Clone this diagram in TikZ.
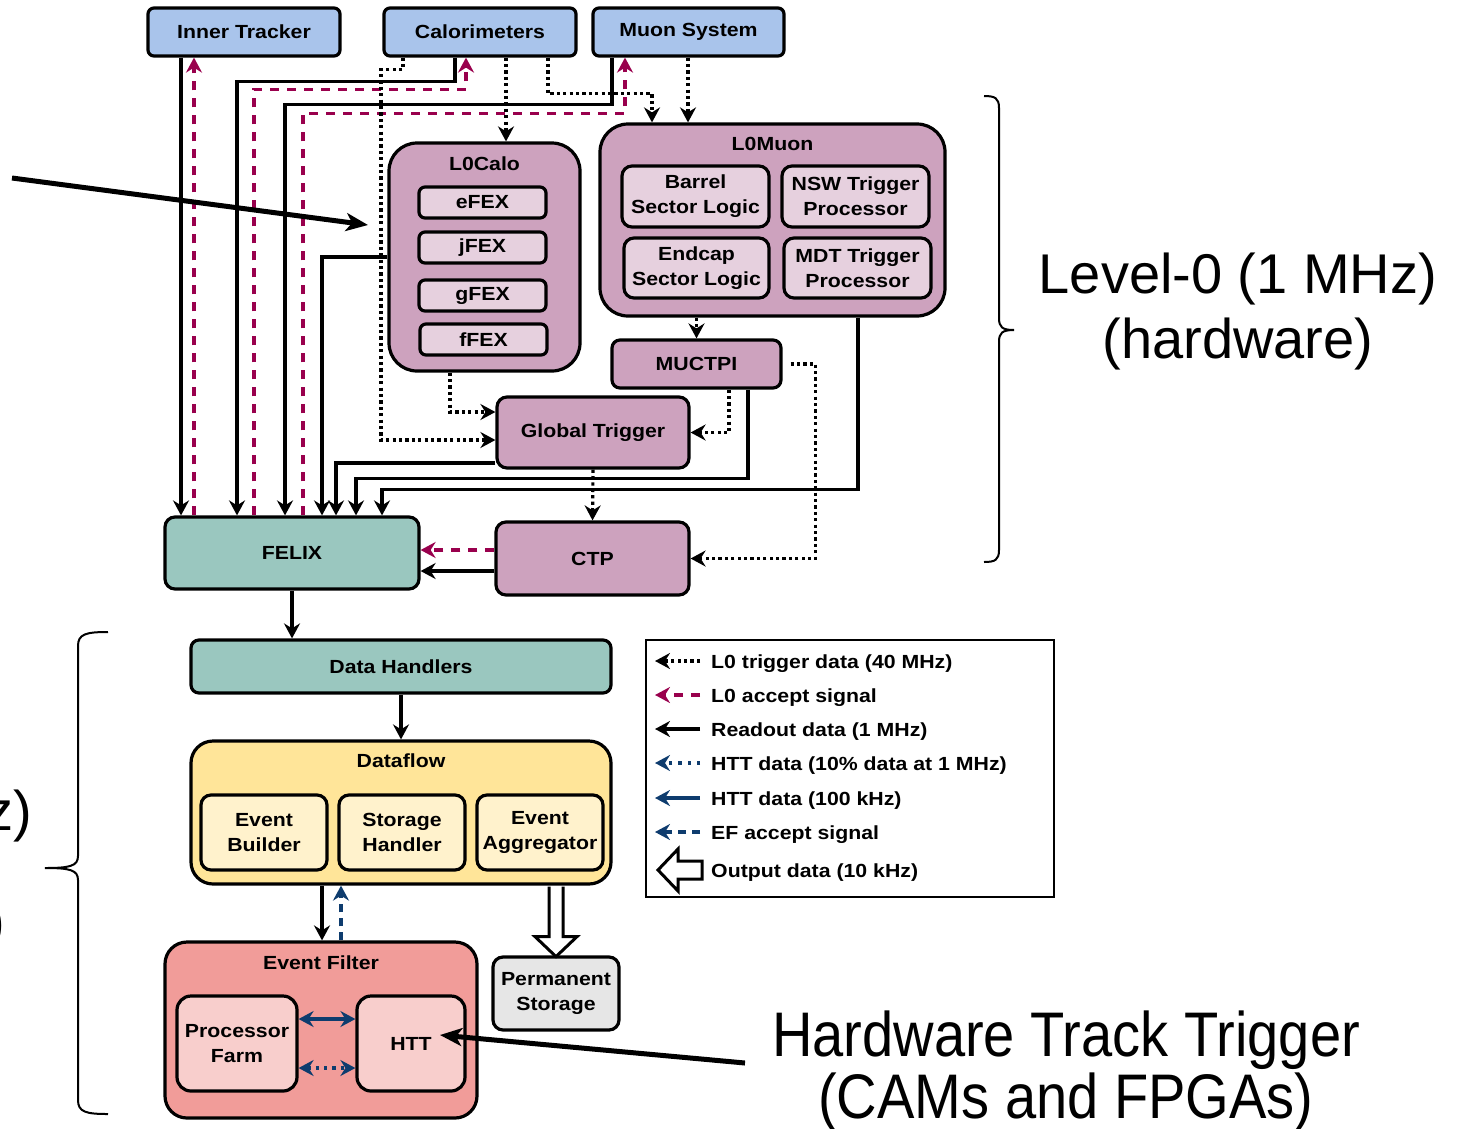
\documentclass[tikz,border=0pt]{standalone}
\usepackage{fontspec}
\setmainfont{Liberation Sans}[FakeStretch=1.12]
\newfontfamily\plainsans{Liberation Sans}
\newfontfamily\narrowsans{Liberation Sans}[FakeStretch=0.89]
\usetikzlibrary{arrows.meta,calc}
\definecolor{detblue}{HTML}{A9C4EB}
\definecolor{lzero}{HTML}{CDA2BE}
\definecolor{lzerolt}{HTML}{E6D0DE}
\definecolor{felixc}{HTML}{9AC7BF}
\definecolor{dfy}{HTML}{FFE599}
\definecolor{dfylt}{HTML}{FFF2CC}
\definecolor{efr}{HTML}{F19C99}
\definecolor{efrlt}{HTML}{F8CECC}
\definecolor{psg}{HTML}{E6E6E6}
\definecolor{accmag}{HTML}{99004D}
\definecolor{httblue}{HTML}{0E3C6E}
\tikzset{
  lbl/.style={font=\fontsize{19}{25}\selectfont\bfseries, align=center, text=black, inner sep=0pt},
  base/.style={draw=black, line width=3.2pt, lbl},
  det/.style={base, fill=detblue, rounded corners=6pt, minimum width=192pt, minimum height=48pt},
  grp/.style={base, fill=lzero, rounded corners=28pt},
  sub/.style={base, fill=lzerolt, rounded corners=8pt},
  lz/.style={base, fill=lzero, rounded corners=10pt},
  tl/.style={base, fill=felixc, rounded corners=10pt},
  dfbox/.style={base, fill=dfy, rounded corners=22pt},
  dfsub/.style={base, fill=dfylt, rounded corners=10pt, minimum width=126pt, minimum height=75pt},
  efbox/.style={base, fill=efr, rounded corners=22pt},
  efsub/.style={base, fill=efrlt, rounded corners=14pt, minimum height=95pt},
  tip/.style={-{Stealth[length=15pt,width=16pt,inset=5pt]}},
  rd/.style={line width=3.2pt, tip},
  trg/.style={rd, dash pattern=on 3.2pt off 3.2pt},
  acc/.style={rd, color=accmag, dash pattern=on 9pt off 8pt},
  htts/.style={line width=3.2pt, color=httblue},
  dbl/.style={{Stealth[length=15pt,width=16pt,inset=5pt]}-{Stealth[length=15pt,width=16pt,inset=5pt]}},
  ptr/.style={line width=5pt, -{Stealth[length=22pt,width=18pt,inset=6pt]}},
  lgt/.style={lbl, anchor=base west},
  bigtxt/.style={font=\plainsans\fontsize{56}{65}\selectfont, inner sep=0pt},
  narrowtxt/.style={font=\narrowsans\fontsize{63}{64}\selectfont, inner sep=0pt},
}
\begin{document}
\begin{tikzpicture}[x=1pt,y=-1pt]
\useasboundingbox (0,0) rectangle (1461,1128);

% detectors
\node[det] (it) at (244,32) {Inner Tracker};
\node[det] (cal) at (480,32) {Calorimeters};
\node[det, minimum width=191pt] (muon) at (688.5,32) {Muon System};

% L0Calo
\node[grp, minimum width=191pt, minimum height=228pt] (l0calo) at (484.5,257) {};
\node[lbl] (l0calot) at (484.5,164) {L0Calo};
\node[sub, rounded corners=6pt, minimum width=127pt, minimum height=31pt] (efex) at (482.5,202.5) {eFEX};
\node[sub, rounded corners=6pt, minimum width=127pt, minimum height=31pt] (jfex) at (482.5,247.5) {jFEX};
\node[sub, rounded corners=6pt, minimum width=127pt, minimum height=31pt] (gfex) at (482.5,295.5) {gFEX};
\node[sub, rounded corners=6pt, minimum width=127pt, minimum height=31pt] (ffex) at (483.5,339.5) {fFEX};

% L0Muon
\node[grp, minimum width=345pt, minimum height=192pt] (l0muon) at (772.5,220) {};
\node[lbl] (l0muont) at (772.5,144) {L0Muon};
\node[sub, rounded corners=10pt, minimum width=147pt, minimum height=61pt] (barrel) at (695.5,196.5) {Barrel\\Sector Logic};
\node[sub, rounded corners=10pt, minimum width=147pt, minimum height=61pt] (nsw) at (855.5,196.5) {NSW Trigger\\Processor};
\node[sub, rounded corners=10pt, minimum width=145pt, minimum height=60pt] (endcap) at (696.5,268) {Endcap\\Sector Logic};
\node[sub, rounded corners=10pt, minimum width=147pt, minimum height=60pt] (mdt) at (857.5,268) {MDT Trigger\\Processor};

\node[lz, rounded corners=8pt, minimum width=169pt, minimum height=48pt] (muctpi) at (696.5,364) {MUCTPI};
\node[lz, minimum width=192pt, minimum height=71pt] (gt) at (593,432.5) {Global Trigger};
\node[lz, minimum width=193pt, minimum height=73pt] (ctp) at (592.5,558.5) {CTP};
\node[tl, minimum width=254pt, minimum height=72pt] (felix) at (292,553) {FELIX};

% DAQ
\node[tl, rounded corners=8pt, minimum width=420pt, minimum height=53pt] (dh) at (401,666.5) {Data Handlers};
\node[dfbox, minimum width=420pt, minimum height=143pt] (df) at (401,812.5) {};
\node[lbl] (dft) at (401,761) {Dataflow};
\node[dfsub] (eb) at (264,832.5) {Event\\Builder};
\node[dfsub] (sh) at (402,832.5) {Storage\\Handler};
\node[dfsub] (ea) at (540,832.5) {Event\\Aggregator};

\node[efbox, minimum width=312pt, minimum height=176pt] (ef) at (321,1030) {};
\node[lbl] (eft) at (321,963) {Event Filter};
\node[efsub, minimum width=120pt] (pf) at (237,1043.5) {Processor\\Farm};
\node[efsub, minimum width=108pt] (htt) at (411,1043.5) {HTT};
\node[base, fill=psg, rounded corners=10pt, minimum width=126pt, minimum height=73pt] (ps) at (556,993.5) {Permanent\\Storage};

% ---------- readout (solid black) ----------
\draw[rd] ([xshift=-63pt]it.south) -- ([xshift=-111pt]felix.north);
\draw[rd] ([xshift=-25pt]cal.south) -- ++(0,24) -| ([xshift=-55pt]felix.north);
\draw[rd] ([xshift=-76.5pt]muon.south) -- ++(0,47) -| ([xshift=-7pt]felix.north);
\draw[rd] (l0calo.west) -| ([xshift=30pt]felix.north);
\draw[rd] ([yshift=-30.5pt]gt.west) -| ([xshift=44pt]felix.north);
\draw[rd] ([xshift=51.5pt]muctpi.south) -- ++(0,89) -| ([xshift=64pt]felix.north);
\draw[rd] ([xshift=85.5pt]l0muon.south) -- ++(0,172) -| ([xshift=90pt]felix.north);
\coordinate (ctpo) at ([yshift=-12.5pt]ctp.west);
\draw[rd] (ctpo) -- (ctpo -| felix.east);
\draw[rd] (felix.south) -- (felix.south |- dh.north);
\draw[rd] (dh.south) -- (df.north);
\coordinate (dfa) at ([xshift=-79pt]df.south);
\draw[rd] (dfa) -- (dfa |- ef.north);

% ---------- L0 accept (magenta dashed) ----------
\draw[acc] ([xshift=-98pt]felix.north) -- ([xshift=-50pt]it.south);
\draw[acc] ([xshift=-38pt]felix.north) -- ++(0,-426) -| ([xshift=-14pt]cal.south);
\draw[acc] ([xshift=11pt]felix.north) -- ++(0,-402) -| ([xshift=-63.5pt]muon.south);
\coordinate (ctpa) at ([yshift=8.5pt]ctp.west);
\draw[acc] (ctpa) -- (ctpa -| felix.east);

% ---------- L0 trigger data (dotted) ----------
\coordinate (gta) at ([yshift=-7.5pt]gt.west);
\draw[trg] ([xshift=-77pt]cal.south) -- ++(0,12) -- ++(-22,0) |- (gta);
\coordinate (ca) at ([xshift=26pt]cal.south);
\draw[trg] (ca) -- (ca |- l0calo.north);
\draw[trg] ([xshift=68pt]cal.south) -- ++(0,36) -| ([xshift=-120.5pt]l0muon.north);
\coordinate (ma) at ([xshift=-0.5pt]muon.south);
\draw[trg] (ma) -- (ma |- l0muon.north);
\coordinate (gtb) at ([yshift=20.5pt]gt.west);
\draw[trg] ([xshift=-34.5pt]l0calo.south) |- (gtb);
\draw[trg] (muctpi.north |- l0muon.south) -- (muctpi.north);
\draw[trg] ([xshift=32.5pt]muctpi.south) |- (gt.east);
\draw[trg] ([xshift=8pt]muctpi.east) -- ++(25,0) |- (ctp.east);
\draw[trg] (gt.south) -- (ctp.north);

% ---------- HTT / EF ----------
\coordinate (efa) at ([xshift=20pt]ef.north);
\draw[htts, tip, dash pattern=on 8pt off 6pt] (efa) -- (efa |- df.south);
\coordinate (pfa) at ([yshift=24.5pt]pf.east);
\draw[htts, dbl] (pfa) -- (pfa -| htt.west);
\coordinate (pfb) at ([yshift=-24.5pt]pf.east);
\draw[htts, dbl, dash pattern=on 3.2pt off 5pt] (pfb) -- (pfb -| htt.west);

% output hollow arrow
\coordinate (pa) at ([xshift=155pt]df.south);
\draw[line width=3pt, fill=white, line join=miter] ($(pa)+(-7,1)$) -- ($(pa)+(-7,51)$) -- ($(pa)+(-21,51)$) -- ($(pa)+(0,71)$) -- ($(pa)+(21,51)$) -- ($(pa)+(7,51)$) -- ($(pa)+(7,1)$);

% ---------- legend ----------
\node[draw, line width=1.4pt, minimum width=408pt, minimum height=257pt, inner sep=0pt] (legend) at (850,768.5) {};
\node[lgt] (lg1) at (711,668) {L0 trigger data (40 MHz)};
\node[lgt] (lg2) at (711,702) {L0 accept signal};
\node[lgt] (lg3) at (711,736) {Readout data (1 MHz)};
\node[lgt] (lg4) at (711,770) {HTT data (10\% data at 1 MHz)};
\node[lgt] (lg5) at (711,805) {HTT data (100 kHz)};
\node[lgt] (lg6) at (711,839) {EF accept signal};
\node[lgt] (lg7) at (711,877) {Output data (10 kHz)};
\draw[trg] ([xshift=-11pt,yshift=7pt]lg1.base west) -- ++(-45,0);
\draw[acc] ([xshift=-11pt,yshift=7pt]lg2.base west) -- ++(-45,0);
\draw[rd] ([xshift=-11pt,yshift=7pt]lg3.base west) -- ++(-45,0);
\draw[htts, tip, dash pattern=on 3.2pt off 6pt] ([xshift=-11pt,yshift=7pt]lg4.base west) -- ++(-45,0);
\draw[htts, tip] ([xshift=-11pt,yshift=7pt]lg5.base west) -- ++(-45,0);
\draw[htts, tip, dash pattern=on 8pt off 6pt] ([xshift=-11pt,yshift=7pt]lg6.base west) -- ++(-45,0);
\coordinate (la) at ([xshift=-9pt,yshift=7pt]lg7.base west);
\draw[line width=3pt, line join=miter] ($(la)+(0,-9)$) -- ($(la)+(-24,-9)$) -- ($(la)+(-24,-21)$) -- ($(la)+(-44,0)$) -- ($(la)+(-24,21)$) -- ($(la)+(-24,9)$) -- ($(la)+(0,9)$) -- cycle;

% ---------- braces and annotations ----------
\draw[line width=2pt] (984,96) .. controls (995,96) and (999,98) .. (999,108) -- (999,318) .. controls (999,327) and (1002,330) .. (1014,330) .. controls (1002,330) and (999,333) .. (999,342) -- (999,550) .. controls (999,560) and (995,562) .. (984,562);
\draw[line width=2pt] (108,632) .. controls (86,632) and (78,634) .. (78,646) -- (78,856) .. controls (78,866) and (70,868) .. (45,868) .. controls (70,868) and (78,870) .. (78,880) -- (78,1100) .. controls (78,1112) and (86,1114) .. (108,1114);

\node[bigtxt, anchor=base] (lv1) at (1238,293) {Level-0 (1 MHz)};
\node[bigtxt, anchor=base] (lv2) at (1238,358) {(hardware)};
\node[bigtxt, anchor=base east] (ef1) at (32,830) {(10 kHz)};
\node[bigtxt, anchor=base east] (ef2) at (5,940) {(software)};
\node[narrowtxt, anchor=base] (ht1) at (1066,1056) {Hardware Track Trigger};
\node[narrowtxt, anchor=base] (ht2) at (1066,1118) {(CAMs and FPGAs)};

\coordinate (pA) at (12,178);
\coordinate (pB) at (368,225);
\draw[ptr] (pA) -- (pB);
\coordinate (pC) at (745,1063);
\draw[ptr] (pC) -- ([xshift=29pt,yshift=8.5pt]htt.center);
\end{tikzpicture}
\end{document}
